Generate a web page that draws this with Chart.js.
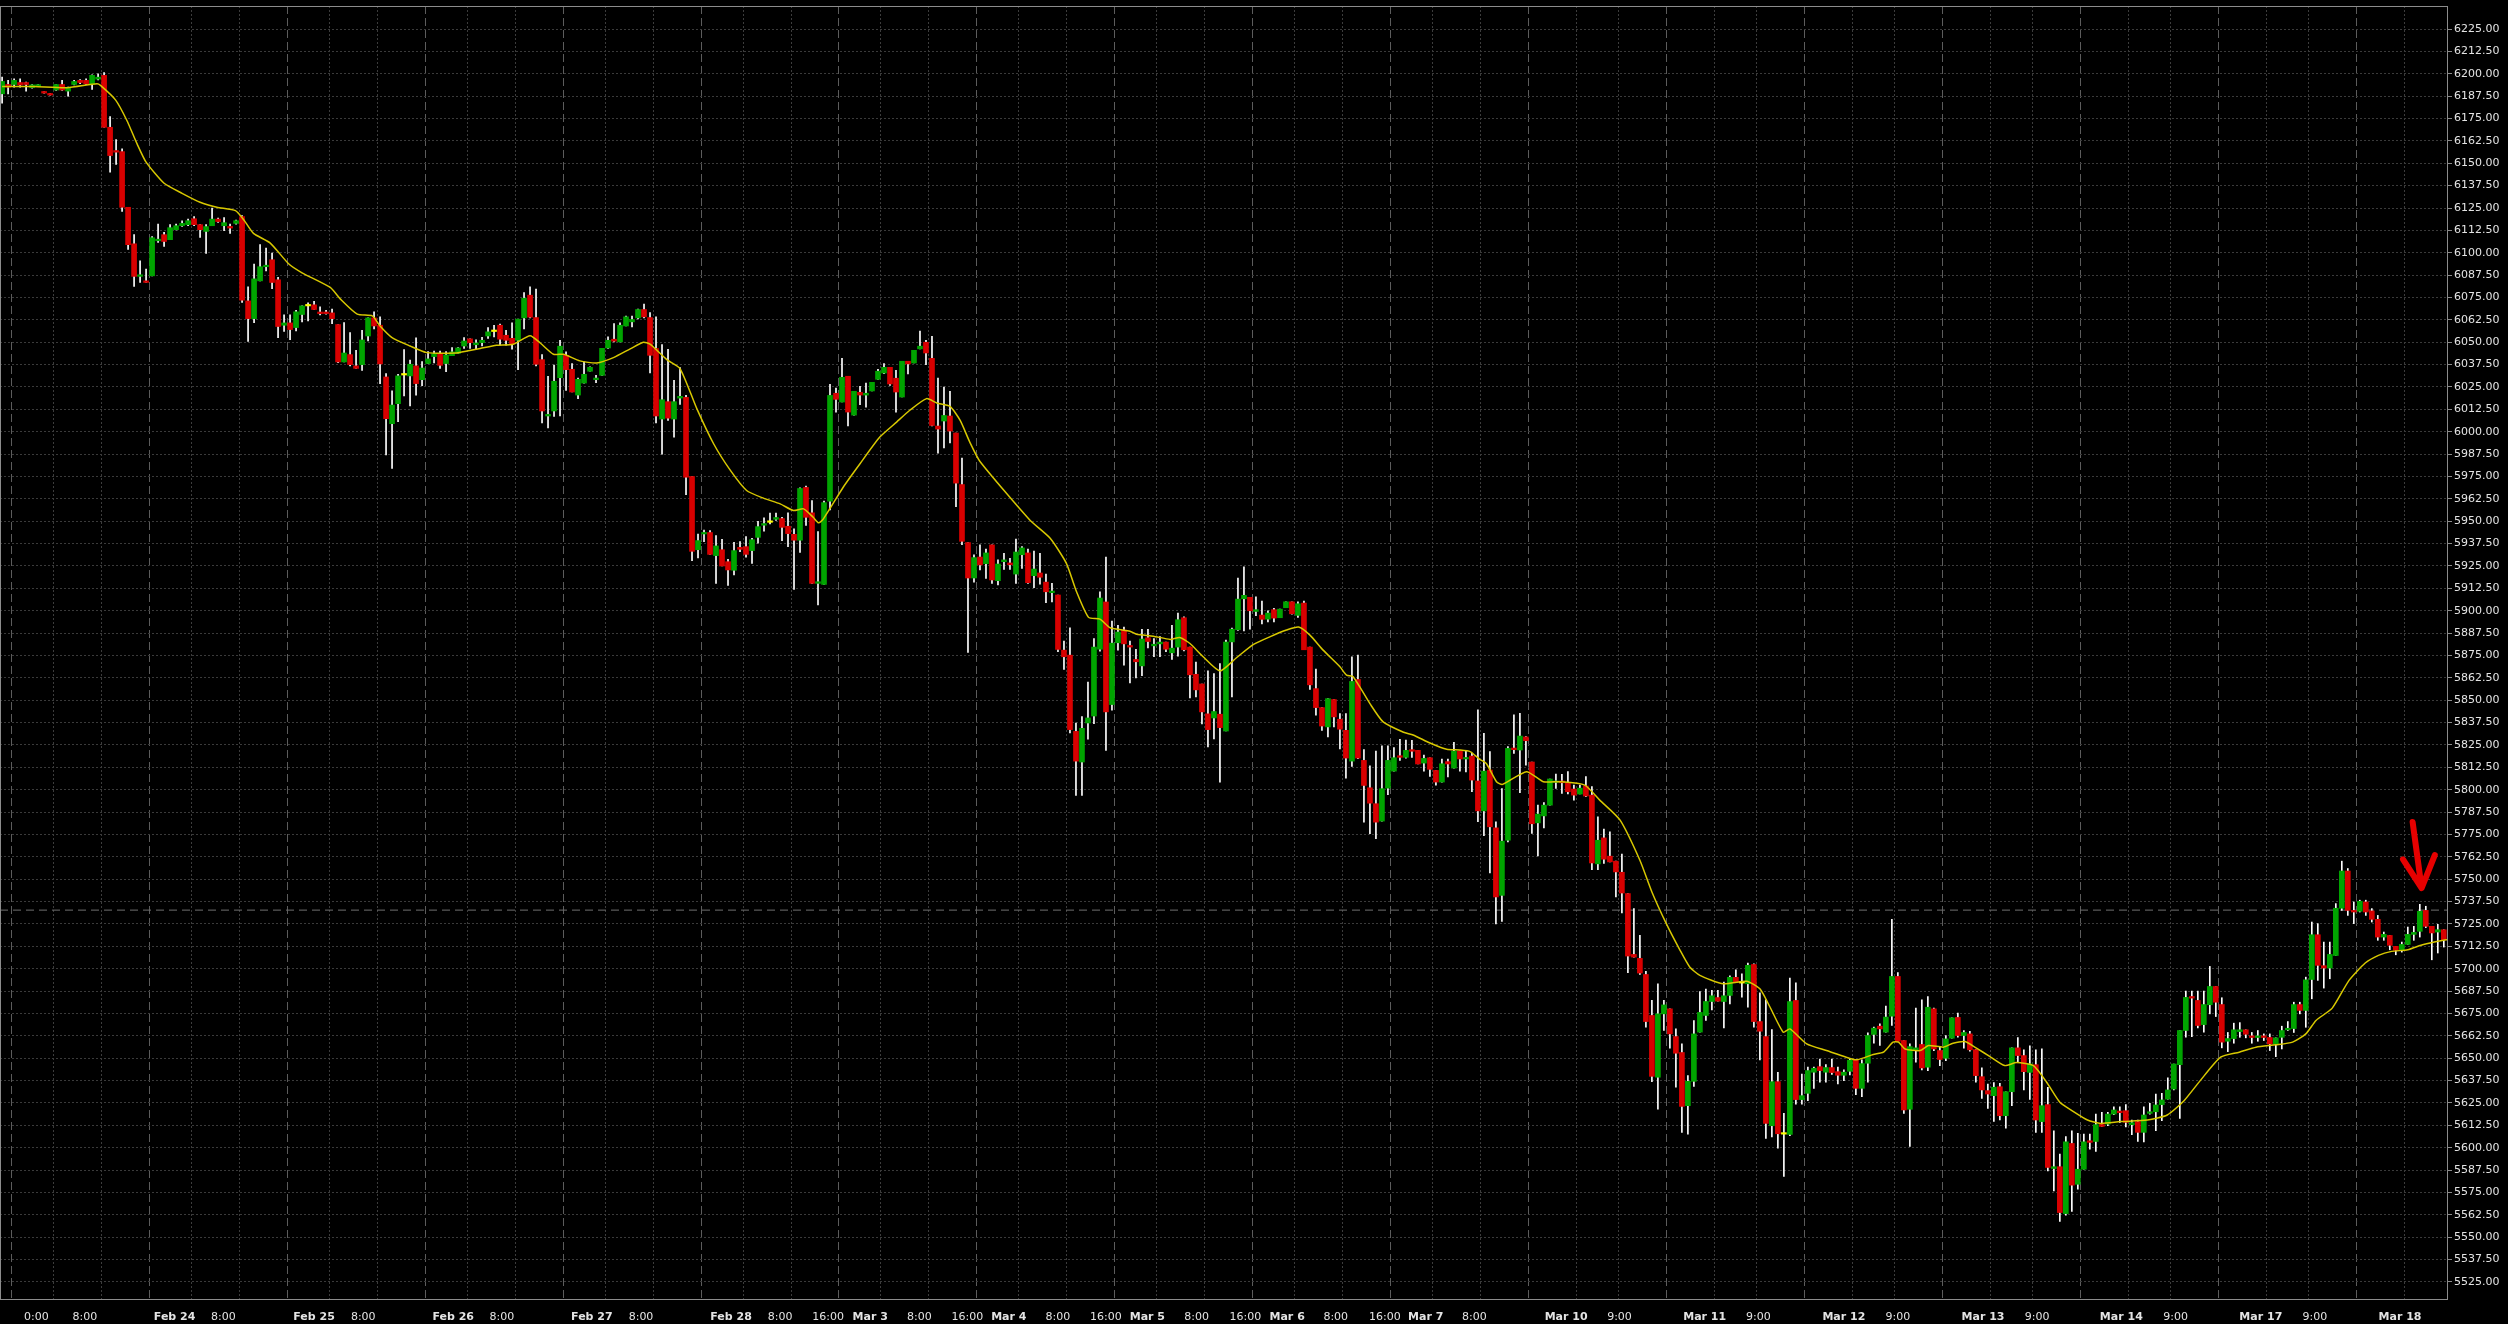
<!DOCTYPE html>
<html>
<head>
<meta charset="utf-8">
<script src="https://cdn.jsdelivr.net/npm/chart.js@4.4.1/dist/chart.umd.min.js"></script>
<style>
  html, body { margin: 0; padding: 0; background: #000; }
  canvas { display: block; }
</style>
</head>
<body>
<canvas id="chart" width="2508" height="1324"></canvas>
<script>
// hourly candles, index 0 = first bar on the left
const opens = [
  6188.8, 6194.0, 6194.0, 6195.1, 6195.1, 6192.2, 6193.1, 6190.1, 6189.0, 6190.9,
  6194.0, 6190.3, 6194.0, 6196.3, 6196.3, 6194.4, 6197.0, 6199.1, 6170.1, 6157.1,
  6156.5, 6125.4, 6105.0, 6086.8, 6084.3, 6087.1, 6106.7, 6110.1, 6107.3, 6112.9,
  6115.1, 6115.7, 6119.0, 6115.7, 6111.9, 6115.1, 6118.8, 6115.1, 6114.7, 6116.4,
  6120.2, 6073.1, 6063.2, 6084.3, 6092.2, 6096.1, 6084.9, 6059.5, 6060.8, 6058.2,
  6065.5, 6070.3, 6070.9, 6066.9, 6066.9, 6066.4, 6059.9, 6039.0, 6043.1, 6036.8,
  6037.5, 6053.5, 6063.6, 6059.5, 6030.6, 6004.5, 6015.7, 6031.7, 6031.2, 6036.8,
  6029.1, 6038.1, 6042.0, 6043.5, 6038.1, 6042.5, 6043.8, 6047.9, 6051.9, 6048.6,
  6049.8, 6053.5, 6056.0, 6059.5, 6053.9, 6052.2, 6051.1, 6063.6, 6076.3, 6063.8,
  6040.3, 6008.8, 6011.6, 6030.2, 6042.7, 6034.9, 6020.5, 6027.2, 6033.8, 6029.1,
  6031.5, 6046.8, 6051.7, 6050.2, 6059.1, 6061.4, 6063.6, 6068.3, 6063.8, 6046.5,
  6007.1, 6016.8, 6007.1, 6018.8, 6019.2, 5975.0, 5934.1, 5942.9, 5943.7, 5930.8,
  5934.1, 5927.4, 5922.6, 5935.4, 5935.8, 5933.6, 5941.0, 5947.8, 5949.4, 5951.1,
  5951.5, 5947.2, 5942.7, 5939.4, 5968.9, 5954.7, 5915.3, 5914.7, 5961.2, 6021.5,
  6016.6, 6031.0, 6009.3, 6022.0, 6020.5, 6022.8, 6029.3, 6032.8, 6036.0, 6029.9,
  6019.4, 6039.4, 6038.4, 6046.3, 6050.0, 6041.0, 6003.2, 6006.0, 6008.8, 5999.3,
  5970.5, 5938.1, 5918.3, 5930.0, 5926.3, 5936.8, 5916.8, 5927.4, 5926.7, 5920.5,
  5931.3, 5932.3, 5919.6, 5921.1, 5916.0, 5910.1, 5908.8, 5878.0, 5875.2, 5832.6,
  5815.5, 5837.3, 5841.2, 5878.5, 5904.9, 5847.6, 5882.1, 5889.2, 5880.6, 5872.8,
  5869.2, 5884.9, 5880.4, 5881.5, 5882.5, 5876.5, 5879.7, 5896.1, 5879.7, 5864.5,
  5859.1, 5842.4, 5840.1, 5842.2, 5832.8, 5882.6, 5889.4, 5906.7, 5907.5, 5899.6,
  5897.6, 5895.3, 5900.6, 5896.1, 5901.7, 5905.0, 5897.4, 5904.3, 5879.7, 5856.5,
  5845.9, 5835.1, 5850.4, 5839.4, 5833.2, 5816.0, 5861.6, 5816.4, 5801.1, 5792.2,
  5782.5, 5800.9, 5810.4, 5819.0, 5818.1, 5822.4, 5822.0, 5814.9, 5817.9, 5810.8,
  5804.3, 5815.7, 5812.1, 5821.6, 5817.2, 5818.8, 5804.9, 5788.2, 5811.0, 5778.7,
  5741.0, 5771.8, 5823.3, 5822.2, 5829.5, 5815.5, 5781.5, 5785.4, 5791.4, 5804.1,
  5804.9, 5803.9, 5800.4, 5797.6, 5802.1, 5797.0, 5758.6, 5773.1, 5762.9, 5760.1,
  5753.9, 5742.0, 5708.0, 5705.8, 5696.8, 5673.9, 5639.4, 5674.8, 5677.6, 5662.1,
  5653.2, 5623.5, 5637.1, 5664.6, 5673.9, 5681.7, 5683.9, 5681.7, 5685.1, 5695.2,
  5692.0, 5691.6, 5702.4, 5670.5, 5662.1, 5612.3, 5636.9, 5607.6, 5607.4, 5682.3,
  5626.9, 5630.4, 5642.2, 5645.3, 5642.2, 5644.8, 5642.5, 5640.5, 5642.7, 5649.2,
  5633.2, 5647.2, 5663.3, 5667.9, 5664.6, 5673.5, 5695.7, 5659.9, 5621.5, 5654.8,
  5657.7, 5645.0, 5677.6, 5654.3, 5650.0, 5661.2, 5672.8, 5662.7, 5663.6, 5654.8,
  5639.7, 5631.9, 5629.1, 5634.1, 5617.9, 5631.3, 5655.8, 5651.5, 5642.1, 5646.4,
  5614.6, 5624.1, 5588.4, 5589.4, 5563.2, 5602.4, 5579.6, 5588.0, 5603.9, 5603.5,
  5613.0, 5613.2, 5618.8, 5620.5, 5620.7, 5612.9, 5614.6, 5608.6, 5619.2, 5620.1,
  5624.1, 5627.2, 5632.8, 5646.4, 5665.5, 5684.5, 5682.3, 5668.8, 5679.9, 5690.1,
  5680.0, 5659.5, 5661.0, 5664.9, 5665.9, 5662.5, 5661.6, 5662.5, 5661.6, 5658.0,
  5661.7, 5665.9, 5666.6, 5680.0, 5676.7, 5694.0, 5719.0, 5701.7, 5700.4, 5707.4,
  5733.8, 5754.6, 5732.6, 5732.1, 5737.3, 5732.3, 5727.6, 5717.7, 5718.6, 5712.5,
  5710.3, 5713.6, 5719.2, 5720.9, 5732.6, 5723.7, 5720.5, 5721.8
];
const highs = [
  6198.1, 6196.3, 6197.2, 6197.2, 6195.3, 6194.0, 6194.0, 6190.1, 6189.0, 6194.0,
  6196.3, 6192.5, 6196.3, 6196.8, 6197.2, 6199.4, 6200.0, 6200.6, 6176.1, 6163.2,
  6158.0, 6125.4, 6110.1, 6095.5, 6090.9, 6109.1, 6116.0, 6111.4, 6115.7, 6116.0,
  6117.9, 6118.8, 6120.2, 6115.7, 6115.7, 6125.0, 6119.4, 6119.6, 6116.0, 6118.3,
  6120.7, 6081.0, 6093.7, 6104.5, 6102.6, 6099.8, 6086.2, 6065.3, 6065.3, 6067.9,
  6070.3, 6072.0, 6072.8, 6069.8, 6067.9, 6068.5, 6059.9, 6061.0, 6055.4, 6045.5,
  6056.7, 6063.6, 6067.0, 6064.2, 6032.5, 6022.8, 6032.1, 6045.9, 6040.1, 6052.4,
  6039.2, 6044.8, 6045.1, 6045.1, 6044.8, 6047.0, 6047.0, 6052.6, 6051.9, 6051.3,
  6052.8, 6058.2, 6059.5, 6060.1, 6056.7, 6060.8, 6062.9, 6077.8, 6081.0, 6079.7,
  6043.1, 6031.0, 6037.3, 6051.1, 6044.6, 6038.1, 6030.0, 6039.0, 6036.2, 6031.5,
  6046.6, 6053.0, 6060.4, 6060.8, 6064.6, 6064.6, 6068.5, 6071.3, 6066.6, 6064.2,
  6048.7, 6046.1, 6028.7, 6035.8, 6020.3, 5975.0, 5942.9, 5945.1, 5944.8, 5942.0,
  5939.9, 5928.7, 5938.2, 5938.6, 5941.4, 5940.5, 5950.0, 5951.9, 5954.5, 5954.5,
  5952.2, 5954.7, 5945.7, 5968.7, 5969.6, 5961.6, 5944.2, 5961.2, 6026.5, 6024.4,
  6041.0, 6031.0, 6022.6, 6025.4, 6027.2, 6027.6, 6034.9, 6038.1, 6036.0, 6034.3,
  6039.4, 6039.4, 6045.5, 6056.2, 6051.1, 6053.3, 6030.0, 6025.0, 6022.6, 5999.3,
  5985.3, 5938.1, 5931.2, 5936.8, 5934.5, 5936.8, 5928.4, 5932.1, 5929.3, 5940.1,
  5935.8, 5934.5, 5933.4, 5932.1, 5920.5, 5915.3, 5908.8, 5883.0, 5890.5, 5837.3,
  5840.9, 5860.1, 5884.5, 5910.6, 5930.0, 5894.2, 5891.8, 5890.9, 5883.0, 5878.5,
  5889.6, 5889.6, 5884.5, 5885.5, 5882.5, 5891.8, 5898.7, 5896.6, 5879.7, 5871.3,
  5859.1, 5866.4, 5864.9, 5870.5, 5883.6, 5890.3, 5918.3, 5924.6, 5907.5, 5907.8,
  5905.4, 5900.0, 5901.3, 5900.9, 5905.0, 5905.0, 5905.0, 5905.4, 5879.7, 5867.4,
  5845.9, 5850.9, 5850.4, 5842.5, 5842.5, 5874.3, 5875.2, 5822.4, 5813.4, 5821.6,
  5824.6, 5824.6, 5823.5, 5828.2, 5827.8, 5827.6, 5822.0, 5819.4, 5817.9, 5810.8,
  5817.2, 5817.2, 5826.5, 5821.6, 5822.0, 5820.3, 5844.6, 5831.5, 5821.3, 5782.1,
  5800.7, 5824.1, 5841.8, 5842.7, 5829.7, 5815.5, 5791.4, 5792.9, 5806.0, 5808.8,
  5808.6, 5810.1, 5802.6, 5802.6, 5807.3, 5801.7, 5784.9, 5778.0, 5776.5, 5760.1,
  5764.0, 5742.0, 5733.6, 5718.7, 5698.5, 5682.3, 5691.6, 5682.3, 5677.6, 5666.4,
  5658.0, 5640.3, 5671.1, 5687.3, 5688.6, 5687.9, 5687.9, 5692.5, 5696.1, 5699.4,
  5697.2, 5703.2, 5702.8, 5686.6, 5682.7, 5666.0, 5642.2, 5619.2, 5694.8, 5692.2,
  5641.2, 5645.0, 5645.0, 5649.6, 5646.4, 5649.6, 5645.0, 5643.5, 5650.0, 5649.2,
  5649.1, 5664.2, 5667.4, 5669.2, 5679.1, 5727.6, 5697.8, 5659.9, 5658.0, 5678.0,
  5682.6, 5684.5, 5678.0, 5656.7, 5662.7, 5672.6, 5675.2, 5665.5, 5665.1, 5654.8,
  5644.6, 5635.6, 5636.4, 5636.0, 5631.3, 5655.8, 5661.6, 5654.7, 5656.9, 5654.7,
  5655.2, 5633.8, 5609.5, 5596.4, 5606.2, 5609.5, 5608.0, 5607.6, 5607.6, 5618.8,
  5619.8, 5619.8, 5622.9, 5622.9, 5624.1, 5615.5, 5615.5, 5622.9, 5624.8, 5630.0,
  5630.4, 5639.0, 5646.8, 5665.5, 5687.5, 5687.5, 5687.5, 5687.5, 5701.3, 5690.1,
  5683.8, 5664.4, 5669.6, 5669.9, 5665.9, 5664.4, 5665.5, 5663.6, 5663.6, 5661.4,
  5667.9, 5670.5, 5681.3, 5681.3, 5695.3, 5726.1, 5725.2, 5714.9, 5714.9, 5736.4,
  5760.1, 5756.0, 5737.3, 5738.3, 5738.3, 5733.6, 5729.8, 5720.5, 5718.6, 5712.5,
  5714.9, 5723.3, 5723.7, 5736.0, 5734.9, 5723.7, 5724.8, 5721.8
];
const lows = [
  6183.6, 6188.8, 6192.5, 6192.5, 6190.3, 6192.0, 6192.9, 6189.2, 6188.1, 6190.7,
  6190.7, 6187.5, 6193.8, 6194.4, 6194.0, 6191.2, 6196.6, 6170.1, 6145.0, 6149.3,
  6123.1, 6101.9, 6081.2, 6083.4, 6083.4, 6087.1, 6105.8, 6103.5, 6107.3, 6112.7,
  6114.7, 6115.1, 6115.1, 6108.6, 6099.6, 6115.1, 6117.0, 6112.3, 6110.8, 6116.0,
  6072.2, 6050.4, 6061.0, 6084.3, 6089.9, 6080.0, 6052.6, 6056.0, 6051.5, 6056.3,
  6061.4, 6061.9, 6068.3, 6065.3, 6065.7, 6060.4, 6038.6, 6039.0, 6036.8, 6035.4,
  6034.3, 6050.7, 6057.4, 6026.9, 5987.1, 5979.5, 6005.6, 6020.0, 6014.4, 6020.5,
  6025.7, 6038.1, 6038.4, 6035.4, 6033.6, 6042.5, 6043.8, 6046.6, 6046.6, 6046.4,
  6048.0, 6052.1, 6053.0, 6048.3, 6048.3, 6046.1, 6034.7, 6057.5, 6063.6, 6036.8,
  6004.9, 6002.2, 6008.6, 6008.8, 6023.1, 6022.2, 6018.5, 6027.2, 6033.8, 6027.4,
  6031.5, 6046.5, 6050.2, 6050.2, 6059.1, 6058.6, 6063.1, 6063.6, 6032.8, 6004.9,
  5987.5, 6006.3, 5997.0, 6015.3, 5964.9, 5928.0, 5929.5, 5938.6, 5931.5, 5915.3,
  5925.0, 5914.2, 5920.0, 5933.0, 5929.9, 5926.5, 5937.7, 5944.4, 5948.5, 5950.4,
  5939.2, 5935.8, 5911.9, 5932.6, 5947.6, 5915.3, 5903.2, 5914.7, 5956.3, 6011.0,
  6016.6, 6003.2, 6009.3, 6015.1, 6013.8, 6022.8, 6029.3, 6032.5, 6025.9, 6011.0,
  6019.4, 6032.3, 6038.4, 6046.3, 6037.5, 6003.2, 5988.1, 5991.0, 5993.7, 5958.2,
  5936.9, 5876.7, 5915.9, 5922.8, 5918.1, 5915.3, 5914.4, 5923.1, 5923.1, 5915.3,
  5923.7, 5915.3, 5912.9, 5914.9, 5904.5, 5905.0, 5877.1, 5867.2, 5831.7, 5796.8,
  5796.8, 5828.2, 5836.9, 5877.4, 5822.0, 5844.4, 5878.0, 5869.6, 5859.7, 5862.5,
  5863.8, 5879.3, 5874.3, 5874.3, 5877.1, 5872.8, 5874.6, 5877.6, 5851.3, 5851.9,
  5836.8, 5823.9, 5828.4, 5804.3, 5832.8, 5851.9, 5889.0, 5888.8, 5889.7, 5897.2,
  5892.7, 5893.8, 5893.8, 5896.1, 5901.7, 5898.1, 5896.3, 5878.2, 5856.0, 5841.6,
  5833.2, 5829.5, 5835.1, 5822.8, 5806.5, 5813.1, 5817.4, 5781.9, 5775.4, 5772.6,
  5782.5, 5797.2, 5810.4, 5816.4, 5817.7, 5818.1, 5814.4, 5810.4, 5807.5, 5802.6,
  5804.3, 5807.1, 5812.1, 5810.4, 5809.9, 5798.9, 5782.1, 5774.3, 5753.5, 5725.0,
  5726.5, 5770.9, 5820.3, 5798.3, 5813.8, 5775.6, 5763.1, 5778.7, 5791.4, 5800.8,
  5797.9, 5797.6, 5794.2, 5797.6, 5796.1, 5755.4, 5755.4, 5758.8, 5759.7, 5740.1,
  5731.2, 5697.8, 5706.5, 5696.8, 5667.3, 5636.9, 5621.6, 5665.5, 5655.6, 5633.8,
  5608.6, 5607.6, 5634.3, 5664.6, 5671.1, 5677.0, 5681.9, 5667.0, 5680.4, 5692.3,
  5684.1, 5678.5, 5667.3, 5649.1, 5605.2, 5606.1, 5599.8, 5584.0, 5606.7, 5624.4,
  5624.4, 5626.3, 5633.2, 5636.6, 5636.6, 5640.9, 5635.6, 5637.5, 5640.7, 5629.7,
  5628.5, 5636.6, 5658.4, 5657.1, 5664.6, 5668.3, 5659.5, 5619.2, 5600.7, 5647.8,
  5643.5, 5643.1, 5654.3, 5645.9, 5648.7, 5661.2, 5661.8, 5655.6, 5653.9, 5636.6,
  5627.6, 5622.0, 5614.7, 5615.5, 5611.0, 5623.5, 5647.8, 5632.3, 5627.0, 5608.6,
  5608.6, 5587.1, 5575.9, 5558.8, 5562.3, 5564.4, 5576.9, 5588.0, 5599.2, 5597.9,
  5611.9, 5612.3, 5618.5, 5614.2, 5611.7, 5607.3, 5603.5, 5603.3, 5618.8, 5609.5,
  5615.1, 5627.2, 5632.3, 5616.4, 5661.8, 5662.1, 5667.0, 5664.5, 5674.8, 5673.3,
  5655.8, 5653.7, 5658.4, 5661.7, 5661.4, 5658.4, 5659.5, 5659.9, 5654.3, 5650.9,
  5655.2, 5665.5, 5664.4, 5674.8, 5667.3, 5683.2, 5693.5, 5689.2, 5694.4, 5707.4,
  5732.6, 5729.8, 5725.2, 5731.7, 5729.8, 5726.1, 5715.9, 5715.9, 5710.6, 5707.8,
  5709.3, 5713.6, 5715.9, 5717.7, 5723.0, 5705.0, 5708.8, 5712.1
];
const closes = [
  6195.7, 6192.5, 6196.3, 6193.7, 6194.0, 6193.8, 6193.8, 6189.2, 6188.1, 6194.0,
  6190.9, 6192.0, 6195.7, 6195.1, 6194.4, 6199.1, 6198.1, 6170.1, 6154.3, 6156.2,
  6125.4, 6104.5, 6086.8, 6087.7, 6083.4, 6108.4, 6107.6, 6106.3, 6114.0, 6115.1,
  6116.4, 6117.9, 6115.7, 6112.9, 6114.6, 6118.8, 6117.4, 6116.8, 6113.8, 6117.9,
  6073.5, 6063.2, 6085.4, 6092.2, 6092.7, 6083.4, 6058.8, 6060.8, 6057.1, 6067.0,
  6070.3, 6070.3, 6068.3, 6066.0, 6066.0, 6063.2, 6039.0, 6044.0, 6037.5, 6035.4,
  6051.3, 6063.6, 6059.1, 6037.9, 6007.3, 6014.9, 6031.2, 6031.7, 6037.7, 6026.9,
  6035.6, 6040.7, 6043.5, 6037.1, 6042.9, 6044.6, 6046.8, 6050.7, 6049.8, 6049.6,
  6051.1, 6055.8, 6056.0, 6051.7, 6051.1, 6049.1, 6062.9, 6074.6, 6064.0, 6037.7,
  6011.6, 6009.7, 6028.2, 6047.8, 6034.7, 6022.2, 6029.3, 6032.1, 6036.0, 6030.0,
  6046.6, 6051.1, 6050.6, 6059.5, 6064.2, 6062.7, 6068.3, 6064.2, 6042.7, 6008.8,
  6017.9, 6007.6, 6016.8, 6019.8, 5974.6, 5933.2, 5939.2, 5943.7, 5931.5, 5936.2,
  5925.0, 5922.8, 5933.6, 5934.3, 5931.5, 5939.7, 5947.0, 5948.7, 5949.4, 5952.1,
  5946.6, 5943.1, 5939.4, 5968.3, 5952.2, 5915.3, 5916.2, 5960.4, 6020.3, 6018.1,
  6030.4, 6011.0, 6022.6, 6020.5, 6021.5, 6027.6, 6033.8, 6036.0, 6026.7, 6022.2,
  6039.4, 6037.9, 6045.5, 6047.8, 6044.0, 6003.5, 6001.5, 6009.1, 6000.4, 5971.3,
  5938.8, 5918.3, 5929.7, 5925.6, 5932.3, 5917.2, 5926.1, 5928.4, 5925.7, 5932.8,
  5935.1, 5915.7, 5923.3, 5918.7, 5910.6, 5911.0, 5878.4, 5874.3, 5833.6, 5816.0,
  5834.3, 5840.1, 5879.7, 5907.1, 5843.5, 5881.9, 5888.1, 5881.5, 5879.7, 5871.5,
  5884.2, 5882.8, 5881.3, 5882.5, 5878.5, 5879.1, 5895.0, 5878.2, 5864.2, 5855.8,
  5843.5, 5833.6, 5843.7, 5834.7, 5882.5, 5889.7, 5906.5, 5908.6, 5900.0, 5900.6,
  5895.2, 5898.7, 5895.9, 5900.9, 5905.0, 5898.3, 5903.9, 5878.2, 5858.6, 5845.9,
  5835.6, 5850.9, 5840.7, 5833.8, 5817.7, 5860.5, 5817.7, 5802.4, 5792.5, 5781.9,
  5800.6, 5816.4, 5817.9, 5818.1, 5822.0, 5821.5, 5814.4, 5817.5, 5811.4, 5804.3,
  5814.5, 5814.4, 5821.5, 5817.2, 5817.9, 5805.4, 5788.2, 5810.4, 5779.3, 5740.1,
  5771.3, 5823.1, 5822.4, 5830.0, 5827.4, 5781.0, 5786.4, 5791.4, 5806.0, 5804.9,
  5803.9, 5798.9, 5797.0, 5800.9, 5796.5, 5759.1, 5771.8, 5761.2, 5759.7, 5754.1,
  5742.3, 5707.1, 5706.5, 5697.6, 5670.5, 5639.9, 5674.8, 5679.8, 5663.6, 5652.8,
  5623.1, 5637.1, 5663.6, 5675.6, 5681.7, 5684.9, 5681.9, 5684.9, 5695.2, 5692.3,
  5692.0, 5701.9, 5670.5, 5665.1, 5613.6, 5636.9, 5607.8, 5607.6, 5681.7, 5626.9,
  5629.1, 5643.1, 5644.4, 5643.1, 5644.8, 5642.0, 5640.5, 5642.2, 5648.9, 5633.2,
  5647.0, 5662.7, 5666.8, 5666.4, 5673.0, 5695.7, 5659.5, 5621.1, 5656.5, 5655.8,
  5644.6, 5678.5, 5655.2, 5649.3, 5660.8, 5672.6, 5662.7, 5664.4, 5654.7, 5640.3,
  5632.3, 5630.0, 5633.8, 5617.9, 5631.3, 5655.8, 5651.5, 5642.5, 5646.8, 5615.5,
  5623.5, 5589.0, 5589.4, 5563.8, 5603.3, 5579.1, 5588.0, 5603.3, 5603.0, 5612.9,
  5611.9, 5618.8, 5621.1, 5619.6, 5614.2, 5614.0, 5608.6, 5618.3, 5620.1, 5623.9,
  5626.7, 5632.3, 5646.8, 5665.5, 5684.0, 5683.6, 5668.3, 5680.0, 5690.1, 5681.3,
  5659.0, 5661.0, 5665.9, 5665.9, 5663.4, 5661.6, 5662.5, 5661.6, 5658.0, 5661.4,
  5665.5, 5666.6, 5680.0, 5676.7, 5693.8, 5719.0, 5701.9, 5700.4, 5708.0, 5733.8,
  5754.6, 5732.6, 5731.7, 5737.7, 5731.7, 5727.6, 5717.7, 5719.2, 5713.1, 5710.3,
  5713.6, 5719.2, 5720.3, 5732.1, 5723.7, 5720.0, 5721.8, 5716.2
];

// moving average line at these bar positions
const maIdx = [0, 5.3, 10.8, 15.8, 16.4, 18.9, 20.8, 22.5, 24, 27, 30, 33, 35.8, 38.9, 40.3, 41.9, 44.7, 47.8, 50, 54.7,
  56.4, 59.2, 61.7, 63, 65, 68, 70.8, 75.8, 77.5, 79.7, 82.4, 85.2, 88, 89.7, 91.9, 93.6, 96.3, 99.1, 101.9, 104.7,
  106.9, 108, 110.8, 113, 115.8, 118.6, 121.4, 124.1, 126.9, 129.7, 131.9, 133.6, 135.2, 136.1, 136.9, 140.2, 143, 146.3, 149.1, 151.3,
  154.1, 155.8, 158, 159.7, 161.3, 163, 171.3, 174.7, 177.4, 179.1, 181.1, 183, 184.7, 188, 189.1, 191.9, 194.7, 196.3, 198, 200.2,
  203, 205.8, 208.6, 211.3, 214.1, 216.1, 218, 220.2, 223, 224.1, 225.2, 228, 230.2, 233.6, 235.2, 238, 240.8, 243, 244.7, 246.3,
  247.4, 249.1, 250.1, 254.1, 256.9, 259.7, 263.8, 266.3, 269.7, 273, 275, 277.4, 279.7, 281.3, 283, 286.9, 290.8, 293, 294.7, 296.9,
  298, 300.8, 304.1, 307.4, 309.1, 311.9, 313.6, 315.2, 316.1, 317.2, 319.7, 321.1, 323.6, 325.2, 327.2, 329.1, 331.3, 333.8, 335.8, 338.6,
  340.8, 343, 345, 347.6, 349.8, 353.1, 357.6, 360.9, 363.7, 366.4, 369.8, 372.9, 375.7, 379, 381.8, 384, 385.7, 388.4, 391.2, 393.9,
  396.1, 398.3, 401, 403.2, 405.4, 407.7];
const maVal = [6192.9, 6192.9, 6192.2, 6194.4, 6193.5, 6185.4, 6173.9, 6160.8, 6150.6, 6138.8, 6133.2, 6128.2, 6125.4, 6123.5, 6118.3, 6110.8, 6105.4, 6093.7, 6088.8, 6080.6,
  6074.1, 6065.7, 6064.7, 6059.1, 6052.6, 6047.9, 6044.2, 6044.0, 6045.1, 6046.5, 6048.3, 6048.9, 6053.7, 6049.6, 6043.3, 6043.3, 6039.6, 6038.4, 6041.4, 6046.3,
  6050.0, 6048.9, 6040.3, 6035.3, 6012.9, 5993.3, 5978.4, 5967.2, 5962.9, 5959.7, 5956.0, 5956.9, 5952.2, 5949.1, 5951.3, 5969.0, 5982.1, 5997.0, 6005.4, 6012.0,
  6018.5, 6016.1, 6014.2, 6006.3, 5994.2, 5983.4, 5950.7, 5940.5, 5926.5, 5910.6, 5896.3, 5895.3, 5890.5, 5888.6, 5886.9, 5885.8, 5884.0, 5885.1, 5881.7, 5874.3,
  5866.4, 5873.9, 5881.2, 5885.4, 5889.2, 5890.9, 5886.4, 5878.0, 5868.7, 5864.0, 5863.1, 5848.1, 5837.9, 5832.1, 5830.6, 5826.1, 5822.6, 5822.2, 5821.3, 5817.0,
  5814.7, 5804.5, 5803.0, 5810.1, 5804.5, 5804.5, 5802.6, 5794.2, 5783.0, 5760.6, 5742.9, 5725.2, 5710.3, 5701.0, 5696.3, 5691.6, 5693.0, 5688.8, 5678.5, 5664.5,
  5666.4, 5658.0, 5654.3, 5650.6, 5649.1, 5652.1, 5653.4, 5659.0, 5659.0, 5655.2, 5654.3, 5657.1, 5656.2, 5658.4, 5659.3, 5655.6, 5651.1, 5645.9, 5647.6, 5645.9,
  5636.6, 5625.4, 5620.8, 5615.5, 5613.6, 5614.6, 5615.5, 5618.3, 5626.3, 5637.5, 5650.6, 5653.4, 5656.2, 5657.5, 5659.0, 5663.6, 5671.1, 5678.0, 5693.5, 5703.2,
  5707.5, 5709.7, 5710.6, 5713.1, 5714.9, 5716.4];

// x axis labels (bar position of label centre) and the grid lines
const xLabelPos = [5.7, 13.8, 28.75, 36.9, 52, 60.2, 75.2, 83.3, 98.3, 106.5, 121.5, 129.7, 137.7, 144.7, 152.9, 160.9, 167.8, 176, 184, 190.9,
  199.1, 207.25, 214.2, 222.3, 230.5, 237.3, 245.4, 260.7, 269.6, 283.8, 292.75, 307, 316, 330.2, 339.2, 353.25, 362.3, 376.5, 385.5, 399.7];
const xLabelText = ["0:00", "8:00", "Feb 24", "8:00", "Feb 25", "8:00", "Feb 26", "8:00", "Feb 27", "8:00",
  "Feb 28", "8:00", "16:00", "Mar 3", "8:00", "16:00", "Mar 4", "8:00", "16:00", "Mar 5",
  "8:00", "16:00", "Mar 6", "8:00", "16:00", "Mar 7", "8:00", "Mar 10", "9:00", "Mar 11",
  "9:00", "Mar 12", "9:00", "Mar 13", "9:00", "Mar 14", "9:00", "Mar 17", "9:00", "Mar 18"];
const daySeps = [1.5, 24.5, 47.5, 70.5, 93.5, 116.5, 139.5, 162.5, 185.5, 208.5, 231.5, 254.5, 277.5, 300.5, 323.5, 346.5, 369.5, 392.5];
const subSeps = [8.5, 16.5, 31.5, 39.5, 54.5, 62.5, 77.5, 85.5, 100.5, 108.5, 123.5, 131.5, 146.5, 154.5, 169.5, 177.5, 192.5, 200.5,
  215.5, 223.5, 238.5, 246.5, 262.5, 269.5, 285.5, 292.5, 308.5, 315.5, 331.5, 338.5, 354.5, 361.5, 377.5, 384.5, 400.5];

// price axis labels
const yTicks = [];
for (let v = 5525; v <= 6225; v += 12.5) yTicks.push(v);

const levelPrice = 5732.75;
const arrow = { tail: [401.8, 5782.0], tip: [403.3, 5745.1], wingL: [400.2, 5761.1], wingR: [405.5, 5763.5] };

const xMin = -0.35, xMax = 407.7;
const yMin = 5515.5, yMax = 6237.85;

const bodyData = opens.map((o, i) => ({ x: i, y: [o, closes[i]] }));
const wickData = opens.map((o, i) => ({ x: i, y: [lows[i], highs[i]] }));
const bodyColors = opens.map((o, i) => closes[i] > o ? "#00a400" : closes[i] < o ? "#d80000" : "#ffff00");
const maData = maIdx.map((x, k) => ({ x: x, y: maVal[k] }));

const bgPlugin = {
  id: "bg",
  beforeDraw(chart) {
    const c = chart.ctx;
    c.save();
    c.fillStyle = "#000";
    c.fillRect(0, 0, chart.width, chart.height);
    c.restore();
  }
};

const framePlugin = {
  id: "frame",
  afterDatasetsDraw(chart) {
    const { ctx, scales } = chart;
    // red arrow
    const px = p => [scales.x.getPixelForValue(p[0]), scales.y.getPixelForValue(p[1])];
    const t = px(arrow.tail), tp = px(arrow.tip), l = px(arrow.wingL), r = px(arrow.wingR);
    ctx.save();
    ctx.strokeStyle = "#e60000";
    ctx.lineWidth = 6;
    ctx.lineCap = "round";
    ctx.lineJoin = "round";
    ctx.beginPath();
    ctx.moveTo(t[0], t[1]);
    ctx.lineTo(tp[0], tp[1]);
    ctx.moveTo(l[0], l[1]);
    ctx.lineTo(tp[0], tp[1]);
    ctx.lineTo(r[0], r[1]);
    ctx.stroke();
    ctx.restore();
  },
  afterDraw(chart) {
    const { ctx, chartArea: a } = chart;
    ctx.save();
    ctx.strokeStyle = "#8c8c8c";
    ctx.lineWidth = 1;
    ctx.strokeRect(Math.round(a.left) + 0.5, Math.round(a.top) + 0.5,
      Math.round(a.right - a.left) - 1, Math.round(a.bottom - a.top));
    ctx.restore();
  }
};

const gridAxis = (ticks, color, dash) => ({
  type: "linear", position: "bottom", min: xMin, max: xMax, bounds: "data", offset: false,
  ticks: { display: false },
  grid: { color: color, lineWidth: 1, drawTicks: false, offset: false },
  border: { display: false, dash: dash },
  afterBuildTicks: a => { a.ticks = ticks.map(v => ({ value: v })); },
  afterFit: s => { s.height = 0; s.paddingLeft = 0; s.paddingRight = 0; }
});

new Chart(document.getElementById("chart").getContext("2d"), {
  type: "bar",
  data: {
    datasets: [
      { type: "line", label: "MA", data: maData, borderColor: "#d8c800", borderWidth: 1.5,
        pointRadius: 0, tension: 0.2, order: 0 },
      { type: "bar", label: "body", data: bodyData, backgroundColor: bodyColors, borderWidth: 0,
        barThickness: 5, minBarLength: 1.5, grouped: false, order: 1 },
      { type: "bar", label: "wick", data: wickData, backgroundColor: "#ffffff", borderWidth: 0,
        barThickness: 1, grouped: false, order: 2 },
      { type: "line", label: "level", data: [{ x: xMin, y: levelPrice }, { x: xMax, y: levelPrice }],
        borderColor: "#707070", borderWidth: 1, borderDash: [8, 5], pointRadius: 0, order: 3 }
    ]
  },
  options: {
    responsive: false,
    animation: false,
    events: [],
    layout: { padding: { top: 6, left: 0, right: 0, bottom: 0 } },
    plugins: { legend: { display: false }, tooltip: { enabled: false } },
    scales: {
      x: {
        type: "linear", position: "bottom", min: xMin, max: xMax, bounds: "data", offset: false,
        grid: { display: false, offset: false },
        border: { display: false },
        afterBuildTicks: a => { a.ticks = xLabelPos.map(v => ({ value: v })); },
        afterFit: s => { s.height = 25; s.paddingLeft = 0; s.paddingRight = 0; },
        ticks: {
          autoSkip: false, maxRotation: 0, padding: 4, color: "#e4e4e4",
          callback: (v, i) => xLabelText[i],
          font: ctx => ({ family: "DejaVu Sans", size: 11,
            weight: /[A-Z]/.test(xLabelText[ctx.index] || "") ? "bold" : "normal" })
        }
      },
      xd: gridAxis(daySeps, "#5c5c5c", [8, 4]),
      xs: gridAxis(subSeps, "#3c3c3c", [2, 2]),
      y: {
        type: "linear", position: "right", min: yMin, max: yMax, bounds: "data",
        afterBuildTicks: a => { a.ticks = yTicks.map(v => ({ value: v })); },
        afterFit: s => { s.width = 60; s.paddingTop = 0; s.paddingBottom = 0; },
        ticks: {
          padding: 2, color: "#e4e4e4",
          font: { family: "DejaVu Sans", size: 11 },
          callback: v => v.toFixed(2)
        },
        grid: { color: "#3a3a3a", lineWidth: 1, drawTicks: true, tickLength: 4, tickColor: "#8c8c8c", tickBorderDash: [] },
        border: { display: false, dash: [2, 2] }
      }
    }
  },
  plugins: [bgPlugin, framePlugin]
});
</script>
</body>
</html>
